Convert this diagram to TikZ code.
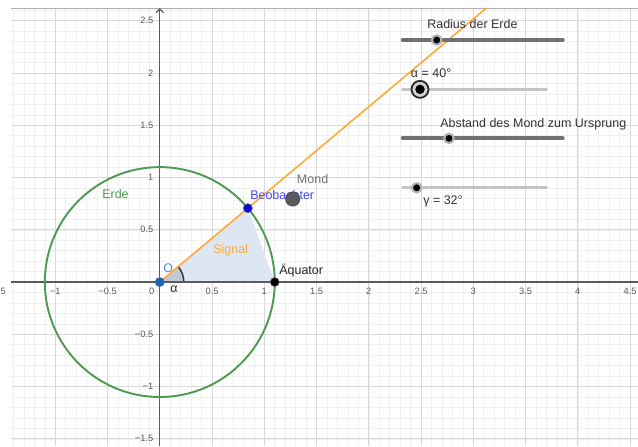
\documentclass[tikz,border=0pt]{standalone}
\usepackage{fontspec}
\setmainfont{Liberation Sans}
\usepackage{xcolor}
\usetikzlibrary{arrows.meta}
\definecolor{gridmajor}{HTML}{D9D9D9}
\definecolor{gridminor}{HTML}{F0F0F0}
\definecolor{axiscolor}{HTML}{5A5A5A}
\definecolor{earthgreen}{HTML}{4E9A50}
\definecolor{signalorange}{HTML}{FFAA38}
\definecolor{areablue}{HTML}{DDE6F3}
\definecolor{anglegray}{HTML}{C2C9D4}
\definecolor{originblue}{HTML}{1565C0}
\definecolor{originlabel}{HTML}{4A8FE0}
\definecolor{observerblue}{HTML}{0A0AE6}
\definecolor{observerlabel}{HTML}{4646FF}
\definecolor{moongray}{HTML}{595959}
\definecolor{sliderdark}{HTML}{707070}
\definecolor{sliderlight}{HTML}{C4C4C4}
\definecolor{labelgray}{HTML}{333333}

\begin{document}
\begin{tikzpicture}[
  x=2.5cm, y=2.5cm,
  font=\fontsize{8.5}{10}\selectfont, >={Straight Barb[length=2.5pt,width=5pt]},
  every node/.style={inner sep=0pt},
  tick/.style={font=\fontsize{6.3}{7}\selectfont, text=axiscolor},
  axis/.style={draw=axiscolor, line width=0.9pt},
  dot/.style={circle, minimum size=6.2pt, draw=black!60, line width=0.4pt},
  bar/.style={line width=2.7pt, line cap=round, draw=sliderdark},
  barlight/.style={line width=2pt, line cap=round, draw=sliderlight},
  knob/.style={circle, fill=black, minimum size=6.4pt, draw=black!30, line width=1.4pt},
  knobring/.style={circle, fill=black!18, minimum size=11.6pt, draw=black!85, line width=1.2pt},
  sliderlabel/.style={anchor=base west, text=labelgray}
]
  \fill[white] (-1.529,-1.569) rectangle (4.576,2.699);
  \useasboundingbox (-1.529,-1.569) rectangle (4.576,2.699);
  \draw[gridminor, line width=0.4pt, step=0.1] (-1.424,-1.569) grid (4.576,2.622);
  \draw[gridmajor, line width=0.6pt, step=0.5] (-1.424,-1.569) grid (4.576,2.622);
  \draw[gridmajor!80!black, line width=0.6pt] (-1.424,2.622) -- (4.576,2.622);

  \coordinate (O) at (0,0);
  \coordinate (B) at (40:1.1);
  \coordinate (A) at (1.1,0);
  \coordinate (M) at (32:1.5);
  \coordinate (signalend) at (3.125,2.622);

  \fill[areablue] (O) -- (B) -- (A) -- cycle;
  \fill[anglegray] (O) -- (0.23,0) arc[start angle=0, end angle=40, radius=0.23] -- cycle;
  \draw[black!80, line width=1pt] (0.23,0) arc[start angle=0, end angle=40, radius=0.23];

  \draw[axis] (-1.424,0) -- (4.576,0);
  \draw[axis, ->] (0,-1.569) -- (0,2.622);
  \node[tick, anchor=base west] (xtick0) at (-1.526,-0.122) {5};
  \foreach \v/\t [count=\i] in {-1/−1, -0.5/−0.5, 0.5/0.5, 1/1, 1.5/1.5, 2/2, 2.5/2.5, 3/3, 3.5/3.5, 4/4, 4.5/4.5}
    \node[tick, anchor=base] (xtick\i) at (\v,-0.122) {\t};
  \node[tick, anchor=base] (zerotick) at (-0.078,-0.122) {0};
  \foreach \v/\t [count=\i] in {-1.5/−1.5, -1/−1, -0.5/−0.5, 0.5/0.5, 1/1, 1.5/1.5, 2/2, 2.5/2.5}
    \node[tick, anchor=east] (ytick\i) at (-0.06,\v) {\t};

  \draw[signalorange, line width=1.1pt] (O) -- (signalend);
  \draw[earthgreen, line width=1.3pt] (O) circle[radius=1.1];

  \coordinate (rleft) at (2.324,2.316);  \coordinate (rright) at (3.856,2.316);
  \coordinate (aleft) at (2.324,1.844);  \coordinate (aright) at (3.702,1.844);
  \coordinate (dleft) at (2.324,1.375);  \coordinate (dright) at (3.856,1.375);
  \coordinate (gleft) at (2.324,0.902);  \coordinate (gright) at (3.702,0.902);
  \draw[bar] (rleft) -- (rright);
  \draw[barlight] (aleft) -- (aright);
  \draw[bar] (dleft) -- (dright);
  \draw[barlight] (gleft) -- (gright);
  \node[sliderlabel] (rlabel) at (2.557,2.426) {Radius der Erde};
  \node[sliderlabel] (alabel) at (2.401,1.954) {α = 40°};
  \node[sliderlabel] (dlabel) at (2.681,1.481) {Abstand des Mond zum Ursprung};
  \node[sliderlabel] (glabel) at (2.519,0.746) {γ = 32°};
  \node[knob] (rknob) at (2.650,2.316) {};
  \node[knobring] (aring) at (2.490,1.844) {};
  \node[knob, draw=none] (aknob) at (aring) {};
  \node[knob] (dknob) at (2.767,1.375) {};
  \node[knob] (gknob) at (2.458,0.902) {};

  \node[anchor=base west, text=earthgreen] (erde) at (-0.553,0.796) {Erde};
  \node[anchor=base west, text=signalorange] (signal) at (0.509,0.277) {Signal};
  \node[anchor=base west, text=originlabel] (olabel) at (0.031,0.088) {O};
  \node[anchor=base west, text=black!85] (alabeleq) at (1.141,0.072) {Äquator};
  \node[anchor=base west, text=labelgray] (alpha) at (0.098,-0.101) {α};
  \node[anchor=base west, text=observerlabel] (blabel) at (0.863,0.789) {Beobachter};
  \node[anchor=base west, text=black!55] (mlabel) at (1.310,0.940) {Mond};

  \node[dot, fill=originblue] (Odot) at (O) {};
  \node[dot, fill=observerblue] (Bdot) at (B) {};
  \node[dot, fill=black] (Adot) at (A) {};
  \node[dot, fill=moongray, minimum size=9.8pt, draw=black!70] (Mdot) at (M) {};
\end{tikzpicture}
\end{document}
